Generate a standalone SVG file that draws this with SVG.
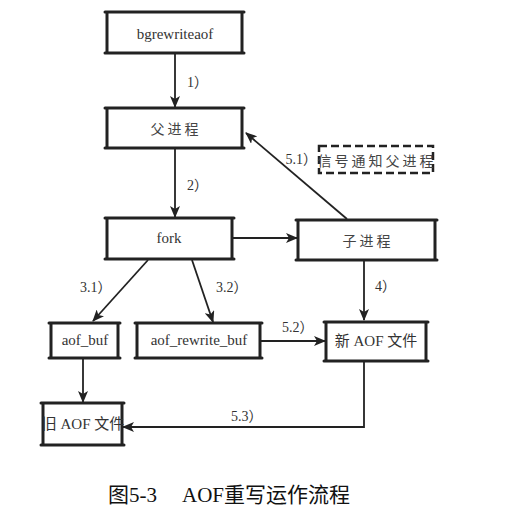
<svg xmlns="http://www.w3.org/2000/svg" width="516" height="525" viewBox="0 0 516 525">
<style>
.box{fill:#fff;stroke:#222;stroke-width:2}
.side{fill:none;stroke:#222;stroke-width:3;stroke-linecap:round}
.dash{fill:#fff;stroke:#222;stroke-width:2.5;stroke-dasharray:8 4}
.t{font-family:'Liberation Serif','DejaVu Serif','Noto Sans CJK SC',serif;font-size:15px;fill:#333;text-anchor:middle;dominant-baseline:central}
.c{font-family:'Noto Sans CJK SC',sans-serif;font-size:14px;fill:#444;text-anchor:middle;dominant-baseline:central;letter-spacing:3px}
.lbl{font-family:'Liberation Serif','DejaVu Serif','Noto Sans CJK SC',serif;font-size:14px;fill:#333;dominant-baseline:central}
.ln{fill:none;stroke:#222;stroke-width:1.8}
.cap{font-family:'Liberation Serif','DejaVu Serif','Noto Sans CJK SC',serif;font-size:21px;fill:#111}
</style>
<defs>
<marker id="ah" viewBox="0 0 12 10" refX="11" refY="5" markerWidth="12" markerHeight="10" markerUnits="userSpaceOnUse" orient="auto">
<path d="M0,0 L12,5 L0,10 L3,5 Z" fill="#222"/>
</marker>
</defs>
<rect width="516" height="525" fill="#fff"/>
<g id="connectors">
<line class="ln" x1="175" y1="53" x2="175" y2="107" marker-end="url(#ah)"/>
<line class="ln" x1="175" y1="148" x2="175" y2="217" marker-end="url(#ah)"/>
<line class="ln" x1="347" y1="219" x2="246" y2="133" marker-end="url(#ah)"/>
<line class="ln" x1="232" y1="238" x2="297" y2="238" marker-end="url(#ah)"/>
<line class="ln" x1="364" y1="260" x2="364" y2="320" marker-end="url(#ah)"/>
<line class="ln" x1="148" y1="260" x2="93" y2="321" marker-end="url(#ah)"/>
<line class="ln" x1="192" y1="260" x2="213" y2="322" marker-end="url(#ah)"/>
<line class="ln" x1="260" y1="341" x2="325" y2="341" marker-end="url(#ah)"/>
<line class="ln" x1="83" y1="358" x2="83" y2="402" marker-end="url(#ah)"/>
<polyline class="ln" points="364,361 364,427 123,427" marker-end="url(#ah)"/>
<text class="lbl" x="187" y="82">1）</text>
<text class="lbl" x="187" y="185">2）</text>
<text class="lbl" x="80" y="287">3.1）</text>
<text class="lbl" x="216" y="287">3.2）</text>
<text class="lbl" x="375" y="286">4）</text>
<text class="lbl" x="317" y="159" text-anchor="end">5.1）</text>
<text class="lbl" x="282" y="327">5.2）</text>
<text class="lbl" x="231" y="416">5.3）</text>
</g>
<g id="n-bgrewriteaof">
<rect class="box" x="107" y="12" width="135" height="41"/>
<path class="side" d="M107,12 L107,53 M242,12 L242,53 M105,12 L244,12 M105,53 L244,53"/>
<text class="t" x="175" y="34">bgrewriteaof</text>
</g>
<g id="n-parent">
<rect class="box" x="107" y="108" width="135" height="40"/>
<path class="side" d="M107,108 L107,148 M242,108 L242,148 M105,108 L244,108 M105,148 L244,148"/>
<text class="c" x="176" y="128">父进程</text>
</g>
<g id="n-signal">
<rect class="dash" x="319" y="146" width="114" height="27"/>
<text class="c" x="377" y="160">信号通知父进程</text>
</g>
<g id="n-fork">
<rect class="box" x="107" y="218" width="125" height="41"/>
<path class="side" d="M107,218 L107,259 M232,218 L232,259 M105,218 L234,218 M105,259 L234,259"/>
<text class="t" x="169" y="238">fork</text>
</g>
<g id="n-child">
<rect class="box" x="298" y="220" width="137" height="40"/>
<path class="side" d="M298,220 L298,260 M435,220 L435,260 M296,220 L437,220 M296,260 L437,260"/>
<text class="c" x="368" y="240">子进程</text>
</g>
<g id="n-aofbuf">
<rect class="box" x="51" y="323" width="67" height="35"/>
<path class="side" d="M51,323 L51,358 M118,323 L118,358 M49,323 L120,323 M49,358 L120,358"/>
<text class="t" x="85" y="340">aof_buf</text>
</g>
<g id="n-rewritebuf">
<rect class="box" x="137" y="323" width="123" height="35"/>
<path class="side" d="M137,323 L137,358 M260,323 L260,358 M135,323 L262,323 M135,358 L262,358"/>
<text class="t" x="199" y="340">aof_rewrite_buf</text>
</g>
<g id="n-newaof">
<rect class="box" x="326" y="322" width="100" height="39"/>
<path class="side" d="M326,322 L326,361 M426,322 L426,361 M324,322 L428,322 M324,361 L428,361"/>
<text class="t" x="376" y="341">新 AOF 文件</text>
</g>
<g id="n-oldaof">
<rect class="box" x="43" y="403" width="79" height="42"/>
<path class="side" d="M43,403 L43,445 M122,403 L122,445 M41,403 L124,403 M41,445 L124,445"/>
<text class="t" x="83" y="424">旧 AOF 文件</text>
</g>
<text class="cap" y="502"><tspan x="108">图5-3</tspan><tspan x="182">AOF重写运作流程</tspan></text>
</svg>
